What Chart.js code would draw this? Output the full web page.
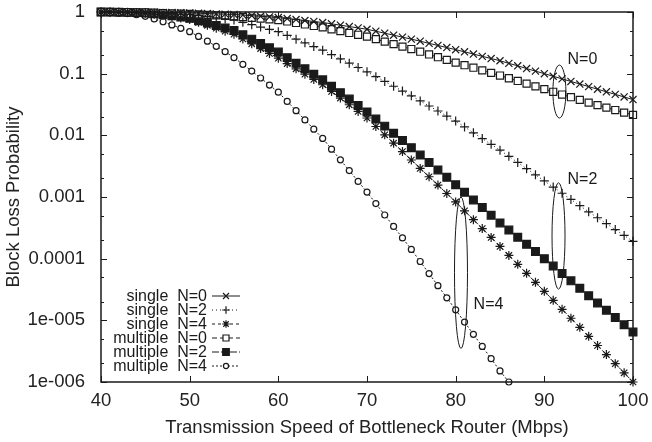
<!DOCTYPE html>
<html>
<head>
<meta charset="utf-8">
<script src="https://cdn.jsdelivr.net/npm/chart.js@4.4.1/dist/chart.umd.min.js"></script>
<style>
  html, body { margin: 0; padding: 0; background: #fff; }
</style>
</head>
<body>
<canvas id="chart" width="652" height="442"></canvas>
<script>
Chart.defaults.font.family = '"Liberation Sans", Arial, sans-serif';
Chart.defaults.color = '#222';

// transmission speed (Mbps), one marker per Mbps
const speeds = [40, 41, 42, 43, 44, 45, 46, 47, 48, 49, 50, 51, 52, 53, 54, 55, 56, 57, 58, 59,
  60, 61, 62, 63, 64, 65, 66, 67, 68, 69, 70, 71, 72, 73, 74, 75, 76, 77, 78, 79,
  80, 81, 82, 83, 84, 85, 86, 87, 88, 89, 90, 91, 92, 93, 94, 95, 96, 97, 98, 99, 100];

// block loss probability
const singleN0 = [1, 1, 1, 1, 1, 0.993, 0.99, 0.985, 0.98, 0.975,
  0.966, 0.955, 0.944, 0.933, 0.923, 0.912, 0.891, 0.871, 0.851, 0.832,
  0.813, 0.783, 0.755, 0.728, 0.702, 0.676, 0.643, 0.611, 0.581, 0.552,
  0.525, 0.488, 0.453, 0.421, 0.391, 0.363, 0.336, 0.31, 0.287, 0.265,
  0.245, 0.226, 0.208, 0.191, 0.176, 0.162, 0.147, 0.134, 0.121, 0.11,
  0.1, 0.0908, 0.0824, 0.0748, 0.0679, 0.0617, 0.056, 0.0508, 0.0461, 0.0419, 0.038];
const singleN2 = [1, 0.998, 0.995, 0.991, 0.984, 0.977, 0.964, 0.951, 0.938, 0.925,
  0.912, 0.875, 0.839, 0.805, 0.773, 0.741, 0.679, 0.622, 0.57, 0.522,
  0.479, 0.417, 0.363, 0.316, 0.275, 0.24, 0.204, 0.174, 0.148, 0.126,
  0.107, 0.0895, 0.0748, 0.0625, 0.0522, 0.0437, 0.0361, 0.0299, 0.0248, 0.0205,
  0.017, 0.0137, 0.011, 0.00887, 0.00714, 0.00575, 0.00457, 0.00363, 0.00288, 0.00229,
  0.00182, 0.00145, 0.00115, 0.000912, 0.000724, 0.000575, 0.000461, 0.00037, 0.000296, 0.000238, 0.000191];
const singleN4 = [1, 0.995, 0.989, 0.979, 0.968, 0.955, 0.92, 0.883, 0.843, 0.802,
  0.759, 0.679, 0.608, 0.545, 0.488, 0.437, 0.365, 0.305, 0.255, 0.213,
  0.178, 0.146, 0.12, 0.0982, 0.0805, 0.0661, 0.0515, 0.0402, 0.0313, 0.0244,
  0.0191, 0.0139, 0.0102, 0.00745, 0.00545, 0.00398, 0.00291, 0.00213, 0.00156, 0.00114,
  0.000832, 0.000597, 0.000429, 0.000308, 0.000221, 0.000158, 0.000113, 8.09e-5, 5.78e-5, 4.13e-5,
  2.95e-5, 2.11e-5, 1.51e-5, 1.08e-5, 7.69e-6, 5.5e-6, 3.91e-6, 2.78e-6, 1.98e-6, 1.41e-6, 1e-6];
const multipleN0 = [1, 0.998, 0.995, 0.991, 0.986, 0.982, 0.973, 0.962, 0.953, 0.942,
  0.933, 0.916, 0.899, 0.883, 0.867, 0.851, 0.828, 0.805, 0.783, 0.762,
  0.741, 0.702, 0.664, 0.628, 0.594, 0.562, 0.525, 0.49, 0.457, 0.427,
  0.398, 0.363, 0.331, 0.302, 0.275, 0.251, 0.227, 0.205, 0.185, 0.167,
  0.151, 0.137, 0.125, 0.113, 0.103, 0.0933, 0.0843, 0.0762, 0.0689, 0.0622,
  0.0562, 0.0508, 0.0459, 0.0415, 0.0375, 0.0339, 0.0309, 0.0282, 0.0257, 0.0234, 0.0214];
const multipleN2 = [1, 0.998, 0.993, 0.986, 0.977, 0.966, 0.938, 0.904, 0.871, 0.832,
  0.794, 0.724, 0.661, 0.603, 0.55, 0.501, 0.427, 0.363, 0.309, 0.263,
  0.224, 0.182, 0.148, 0.12, 0.0977, 0.0794, 0.0625, 0.0492, 0.0387, 0.0305,
  0.024, 0.0184, 0.0141, 0.0108, 0.00824, 0.00631, 0.00479, 0.00363, 0.00275, 0.00209,
  0.00158, 0.00119, 0.000895, 0.000673, 0.000506, 0.00038, 0.000291, 0.000223, 0.000171, 0.000131,
  0.0001, 7.59e-5, 5.75e-5, 4.37e-5, 3.31e-5, 2.51e-5, 1.91e-5, 1.46e-5, 1.11e-5, 8.47e-6, 6.46e-6];
// this one drops below 1e-6 after 86 Mbps
const multipleN4 = [1, 0.991, 0.973, 0.944, 0.902, 0.851, 0.773, 0.695, 0.617, 0.543,
  0.479, 0.402, 0.336, 0.278, 0.227, 0.182, 0.142, 0.11, 0.0851, 0.0653,
  0.0501, 0.0355, 0.0251, 0.0178, 0.0126, 0.00891, 0.00597, 0.004, 0.00268, 0.00179,
  0.0012, 0.000783, 0.000511, 0.000333, 0.000217, 0.000141, 8.99e-5, 5.73e-5, 3.65e-5, 2.32e-5,
  1.48e-5, 9.38e-6, 5.94e-6, 3.77e-6, 2.39e-6, 1.51e-6, 1e-6];

const seriesNames = ['single  N=0', 'single  N=2', 'single  N=4',
  'multiple  N=0', 'multiple  N=2', 'multiple  N=4'];
const seriesValues = [singleN0, singleN2, singleN4, multipleN0, multipleN2, multipleN4];

const xTicks = [40, 50, 60, 70, 80, 90, 100];
const yTicks = [1e-6, 1e-5, 1e-4, 1e-3, 1e-2, 1e-1, 1];
const yTickLabels = ['1e-006', '1e-005', '0.0001', '0.001', '0.01', '0.1', '1'];

// grouping ellipses: centre speed, top/bottom probability, label position
const groupLabels = ['N=0', 'N=2', 'N=4'];
const groupX = [91.7, 91.6, 80.6];
const groupTop = [0.138, 0.0017, 0.001];
const groupBottom = [0.0191, 3.2e-5, 3.5e-6];
const groupLabelX = [94.3, 94.3, 83.7];
const groupLabelY = [0.166, 0.0019, 1.78e-5];

const INK = '#1a1a1a';
const looks = [
  { pointStyle: 'crossRot', pointRadius: 5, dash: [] },
  { pointStyle: 'cross', pointRadius: 4.5, dash: [1, 3] },
  { pointStyle: 'star', pointRadius: 4.5, dash: [3, 3] },
  { pointStyle: 'rect', pointRadius: 5, dash: [5, 3], fill: '#fff' },
  { pointStyle: 'rect', pointRadius: 5.5, dash: [7, 2], fill: INK },
  { pointStyle: 'circle', pointRadius: 3, dash: [2, 2], fill: '#fff' },
];

const datasets = seriesValues.map((vals, i) => ({
  label: seriesNames[i],
  data: vals.map((v, j) => ({ x: speeds[j], y: v })),
  borderColor: INK,
  borderWidth: 1,
  borderDash: looks[i].dash,
  pointStyle: looks[i].pointStyle,
  pointRadius: looks[i].pointRadius,
  pointBorderWidth: 1.2,
  pointBorderColor: INK,
  pointBackgroundColor: looks[i].fill || INK,
  fill: false,
  tension: 0,
  clip: false,
}));

const framePlugin = {
  id: 'frame',
  afterDraw(chart) {
    const { ctx, chartArea: a, scales } = chart;
    const xs = scales.x, ys = scales.y;
    ctx.save();
    ctx.strokeStyle = INK;
    ctx.lineWidth = 1.5;
    ctx.setLineDash([]);
    ctx.strokeRect(a.left, a.top, a.right - a.left, a.bottom - a.top);

    ctx.lineWidth = 1;
    ctx.beginPath();
    xTicks.forEach(v => {
      const px = Math.round(xs.getPixelForValue(v)) + 0.5;
      ctx.moveTo(px, a.bottom); ctx.lineTo(px, a.bottom - 6);
      ctx.moveTo(px, a.top); ctx.lineTo(px, a.top + 6);
    });
    yTicks.forEach(v => {
      [1, 2, 5].forEach(m => {
        const val = v * m;
        if (val > 1) return;
        const len = m === 1 ? 6 : 3;
        const py = Math.round(ys.getPixelForValue(val)) + 0.5;
        ctx.moveTo(a.left, py); ctx.lineTo(a.left + len, py);
        ctx.moveTo(a.right, py); ctx.lineTo(a.right - len, py);
      });
    });
    ctx.stroke();

    // group ellipses and labels
    ctx.font = '16px "Liberation Sans", Arial, sans-serif';
    ctx.fillStyle = INK;
    ctx.textAlign = 'center';
    ctx.textBaseline = 'middle';
    groupLabels.forEach((lab, i) => {
      const cx = xs.getPixelForValue(groupX[i]);
      const t = ys.getPixelForValue(groupTop[i]);
      const b = ys.getPixelForValue(groupBottom[i]);
      ctx.beginPath();
      ctx.ellipse(cx, (t + b) / 2, 6.5, (b - t) / 2, 0, 0, Math.PI * 2);
      ctx.stroke();
      ctx.fillText(lab, xs.getPixelForValue(groupLabelX[i]), ys.getPixelForValue(groupLabelY[i]));
    });

    // key in the lower left corner
    const textRight = a.left + 106;
    const rowTop = a.bottom - 86;
    ctx.textAlign = 'right';
    seriesNames.forEach((name, i) => {
      const y = rowTop + i * 14;
      ctx.fillStyle = INK;
      ctx.fillText(name, textRight, y + 1);
      ctx.setLineDash(looks[i].dash);
      ctx.beginPath();
      ctx.moveTo(textRight + 5, y); ctx.lineTo(textRight + 33, y);
      ctx.stroke();
      ctx.setLineDash([]);
      if (Chart.helpers && Chart.helpers.drawPoint) {
        ctx.save();
        ctx.lineWidth = 1.2;
        ctx.fillStyle = looks[i].fill || INK;
        Chart.helpers.drawPoint(ctx, {
          pointStyle: looks[i].pointStyle,
          radius: looks[i].pointRadius * 0.85,
          rotation: 0,
          borderWidth: 1.2,
        }, textRight + 19, y);
        ctx.restore();
      }
    });
    ctx.restore();
  },
};

new Chart(document.getElementById('chart'), {
  type: 'line',
  data: { datasets },
  plugins: [framePlugin],
  options: {
    responsive: false,
    devicePixelRatio: 1,
    animation: false,
    layout: { padding: { top: 12, right: 19, left: 0, bottom: 0 } },
    plugins: {
      legend: { display: false },
      tooltip: { enabled: false },
    },
    scales: {
      x: {
        type: 'linear',
        min: 40,
        max: 100,
        afterBuildTicks: s => { s.ticks = xTicks.map(v => ({ value: v })); },
        afterFit: s => { s.height = 60; s.paddingLeft = 0; s.paddingRight = 0; },
        ticks: { font: { size: 18.5 }, color: '#222', padding: 0, maxRotation: 0 },
        grid: { display: false },
        border: { display: false },
        title: {
          display: true,
          text: 'Transmission Speed of Bottleneck Router (Mbps)',
          font: { size: 18.5 },
          color: '#222',
          padding: { top: 0, bottom: 3 },
        },
      },
      y: {
        type: 'logarithmic',
        min: 1e-6,
        max: 1,
        afterBuildTicks: s => { s.ticks = yTicks.map(v => ({ value: v })); },
        afterFit: s => { s.width = 101; s.paddingTop = 0; s.paddingBottom = 0; },
        ticks: {
          font: { size: 18.5 },
          color: '#222',
          padding: 8,
          callback: v => {
            const k = yTicks.findIndex(t => Math.abs(Math.log10(t) - Math.log10(v)) < 0.01);
            return k >= 0 ? yTickLabels[k] : '';
          },
        },
        grid: { display: false },
        border: { display: false },
        title: {
          display: true,
          text: 'Block Loss Probability',
          font: { size: 18.5 },
          color: '#222',
          padding: { top: 3, bottom: 0 },
        },
      },
    },
  },
});
</script>
</body>
</html>
